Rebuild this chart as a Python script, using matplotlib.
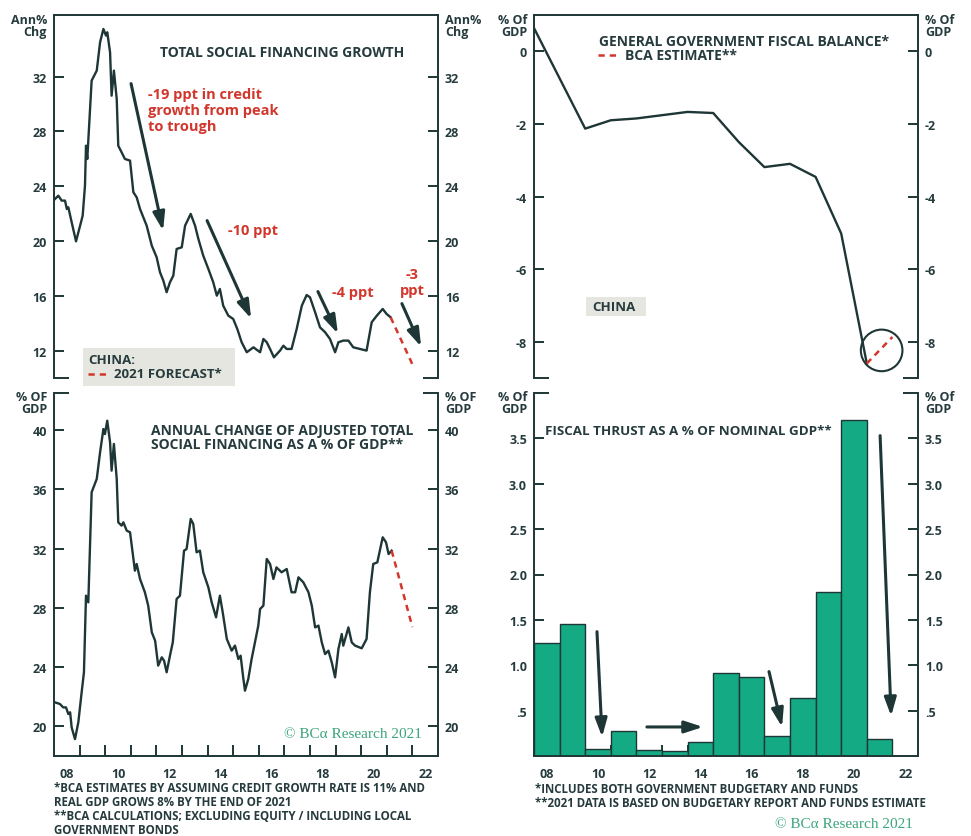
import matplotlib
matplotlib.use("Agg")
import matplotlib.pyplot as plt
from matplotlib.patches import Rectangle, Ellipse
from matplotlib.lines import Line2D

# ---------------------------------------------------------------- data
# Total social financing growth, % y/y (monthly readings)
tsf_years = [2008.04, 2008.17, 2008.30, 2008.43, 2008.50, 2008.56, 2008.69, 2008.86,
             2009.02, 2009.12, 2009.21, 2009.25, 2009.30, 2009.47, 2009.67, 2009.80,
             2009.93, 2010.03, 2010.08, 2010.19, 2010.25, 2010.34, 2010.45, 2010.51,
             2010.64, 2010.77, 2010.97, 2011.10, 2011.23, 2011.36, 2011.62, 2011.82,
             2012.01, 2012.14, 2012.27, 2012.40, 2012.53, 2012.66, 2012.79, 2012.99,
             2013.12, 2013.34, 2013.51, 2013.64, 2013.83, 2014.03, 2014.22, 2014.36,
             2014.48, 2014.61, 2014.81, 2015.00, 2015.16, 2015.33, 2015.53, 2015.79,
             2016.05, 2016.18, 2016.31, 2016.44, 2016.59, 2016.83, 2016.96, 2017.09,
             2017.28, 2017.48, 2017.68, 2017.87, 2018.00, 2018.20, 2018.39, 2018.59,
             2018.78, 2018.98, 2019.11, 2019.30, 2019.50, 2019.69, 2019.95, 2020.21,
             2020.41, 2020.61, 2020.84, 2020.99, 2021.15]
tsf_growth = [23.07, 23.31, 22.95, 22.95, 22.34, 22.46, 21.37, 19.98,
              21.12, 21.85, 24.04, 26.96, 25.99, 31.71, 32.44, 34.51,
              35.48, 35.00, 35.24, 33.78, 30.61, 32.44, 30.37, 26.96,
              26.48, 25.99, 25.87, 23.56, 23.19, 22.34, 21.12, 19.66,
              18.81, 17.72, 17.11, 16.26, 16.99, 17.47, 19.42, 19.54,
              21.12, 21.98, 21.12, 20.15, 18.93, 17.96, 16.99, 16.01,
              16.50, 15.28, 14.55, 14.31, 13.58, 12.61, 11.88, 12.24,
              11.88, 12.85, 12.61, 12.12, 11.51, 12.00, 12.36, 12.12,
              12.12, 13.58, 15.28, 16.06, 15.89, 14.80, 13.70, 13.34,
              12.85, 11.88, 12.61, 12.73, 12.73, 12.24, 12.12, 12.00,
              14.07, 14.55, 15.04, 14.68, 14.43]
tsf_fc_years = [2021.15, 2022.0]
tsf_fc_growth = [14.43, 11.0]

# General government fiscal balance, % of GDP
fb_years = [2008.0, 2010.0, 2011.0, 2012.0, 2013.0, 2014.0, 2015.0,
            2016.0, 2017.0, 2018.0, 2019.0, 2020.0, 2021.0]
fb_balance = [0.64, -2.13, -1.90, -1.85, -1.76, -1.67, -1.70,
              -2.50, -3.19, -3.10, -3.46, -5.02, -8.60]
fb_est_years = [2021.0, 2022.0]
fb_est_balance = [-8.60, -7.87]

# Annual change of adjusted TSF, % of GDP (monthly readings)
atsf_years = [2008.04, 2008.23, 2008.36, 2008.47, 2008.56, 2008.63, 2008.69, 2008.82,
              2008.95, 2009.08, 2009.17, 2009.25, 2009.34, 2009.47, 2009.67, 2009.80,
              2009.93, 2009.99, 2010.08, 2010.19, 2010.25, 2010.34, 2010.45, 2010.51,
              2010.64, 2010.71, 2010.84, 2010.97, 2011.07, 2011.16, 2011.23, 2011.36,
              2011.55, 2011.68, 2011.82, 2011.95, 2012.07, 2012.21, 2012.30, 2012.40,
              2012.53, 2012.64, 2012.79, 2012.92, 2013.08, 2013.18, 2013.34, 2013.44,
              2013.57, 2013.70, 2013.83, 2014.03, 2014.16, 2014.33, 2014.48, 2014.59,
              2014.75, 2014.94, 2015.07, 2015.20, 2015.29, 2015.39, 2015.46, 2015.59,
              2015.72, 2015.85, 2015.98, 2016.05, 2016.18, 2016.31, 2016.44, 2016.57,
              2016.69, 2016.89, 2017.09, 2017.28, 2017.42, 2017.55, 2017.74, 2017.94,
              2018.07, 2018.20, 2018.33, 2018.46, 2018.59, 2018.72, 2018.85, 2018.98,
              2019.11, 2019.24, 2019.30, 2019.50, 2019.63, 2019.76, 2020.02, 2020.21,
              2020.34, 2020.47, 2020.63, 2020.84, 2020.97, 2021.07, 2021.19]
atsf_pct_gdp = [21.62, 21.51, 21.28, 21.28, 20.83, 20.95, 19.93, 19.14,
                20.27, 22.30, 23.65, 28.82, 28.37, 35.80, 36.70, 38.50,
                40.07, 39.73, 40.63, 39.17, 37.26, 39.06, 36.70, 33.77,
                33.55, 33.77, 33.21, 33.10, 31.75, 30.51, 30.96, 29.95,
                29.05, 28.15, 26.35, 25.78, 24.10, 24.66, 24.43, 23.65,
                24.77, 25.67, 28.60, 28.82, 31.86, 31.97, 34.00, 33.66,
                31.75, 31.86, 30.40, 29.38, 28.37, 27.36, 28.82, 27.70,
                25.90, 25.11, 25.45, 24.55, 24.77, 23.31, 22.41, 23.20,
                24.55, 25.67, 26.80, 27.92, 28.15, 31.30, 30.96, 29.95,
                30.73, 30.40, 30.62, 29.05, 29.05, 30.06, 29.72, 29.05,
                28.15, 26.68, 26.80, 25.67, 24.88, 25.11, 24.32, 23.31,
                25.22, 26.23, 25.45, 26.68, 25.67, 25.45, 25.27, 25.90,
                29.05, 30.96, 31.07, 32.76, 32.42, 31.63, 31.86]
atsf_fc_years = [2021.19, 2022.0]
atsf_fc_pct_gdp = [31.86, 26.7]

# Fiscal thrust, % of nominal GDP (annual)
ft_years = [2008, 2009, 2010, 2011, 2012, 2013, 2014,
            2015, 2016, 2017, 2018, 2019, 2020, 2021]
ft_thrust = [1.25, 1.46, 0.08, 0.27, 0.07, 0.05, 0.15,
             0.91, 0.87, 0.22, 0.64, 1.81, 3.70, 0.19]

x_tick_labels = ["08", "10", "12", "14", "16", "18", "20", "22"]
tl_ticks = [12, 16, 20, 24, 28, 32]
tr_ticks = [0, -2, -4, -6, -8]
bl_ticks = [20, 24, 28, 32, 36, 40]
br_ticks = [0.5, 1.0, 1.5, 2.0, 2.5, 3.0, 3.5]
br_tick_labels = [".5", "1.0", "1.5", "2.0", "2.5", "3.0", "3.5"]

# ---------------------------------------------------------------- style
W, H, DPI = 971, 837, 100
INK = "#263b3d"
LINE = "#1e3636"
RED = "#d1372c"
GREEN = "#14aa84"
BOX = "#e6e6e0"
COPY = "#3aa57b"
TITLE_SIZE = 10
NOTE_SIZE = 8.3

plt.rcParams["font.family"] = ["Open Sans", "DejaVu Sans"]
plt.rcParams["font.weight"] = "bold"

fig = plt.figure(figsize=(W / DPI, H / DPI), dpi=DPI)


def rect(x0, y0, x1, y1):
    return [x0 / W, 1 - y1 / H, (x1 - x0) / W, (y1 - y0) / H]


def ftext(x, y, s, **kw):
    kw.setdefault("color", INK)
    kw.setdefault("fontsize", 9)
    return fig.text(x / W, 1 - y / H, s, **kw)


def setup(ax, ylim, yticks, ylabels, top_panel):
    ax.set_xlim(2008, 2023)
    ax.set_ylim(*ylim)
    for s in ax.spines.values():
        s.set_color(LINE)
        s.set_linewidth(1.4)
    ax.spines["bottom" if top_panel else "top"].set_visible(False)
    edge = 0 if top_panel else 1
    stub = 15 / 384
    for xs in ([0, stub], [1 - stub, 1]):
        ax.add_line(Line2D(xs, [edge, edge], transform=ax.transAxes, color=LINE,
                           lw=1.4, clip_on=False, solid_capstyle="butt"))
    ax.set_yticks(yticks)
    ax.set_yticklabels(ylabels)
    ax.tick_params(axis="y", direction="in", left=True, right=True,
                   labelleft=True, labelright=True, length=7, width=1.4,
                   color=LINE, labelcolor=INK, labelsize=9, pad=5)
    if top_panel:
        ax.tick_params(axis="x", which="both", bottom=False, labelbottom=False)
    else:
        ax.set_xticks(range(2009, 2023), minor=True)
        ax.set_xticks([y + 0.5 for y in range(2008, 2023, 2)])
        ax.set_xticklabels(x_tick_labels)
        ax.tick_params(axis="x", which="minor", direction="in", length=8,
                       width=1.4, color=LINE)
        ax.tick_params(axis="x", which="major", length=0, labelsize=9,
                       labelcolor=INK, pad=8)


def arrow(ax, start, end, lw=2.2):
    ax.annotate("", xy=end, xytext=start,
                arrowprops=dict(arrowstyle="-|>,head_length=1.1,head_width=0.36",
                                color=LINE, lw=lw, shrinkA=0, shrinkB=0))


# ---------------------------------------------------------------- top left
ax1 = fig.add_axes(rect(54, 16, 438, 379))
setup(ax1, (10, 36.5), tl_ticks, [str(t) for t in tl_ticks], True)
ax1.plot(tsf_years, tsf_growth, color=LINE, lw=1.7, solid_joinstyle="round")
ax1.plot(tsf_fc_years, tsf_fc_growth, color=RED, lw=1.8, ls=(0, (2.5, 2)))
arrow(ax1, (2011.01, 31.49), (2012.26, 20.76))
arrow(ax1, (2013.98, 21.49), (2015.70, 14.34))
arrow(ax1, (2018.31, 16.31), (2019.09, 13.24))
arrow(ax1, (2021.59, 15.43), (2022.34, 12.29))

ftext(282, 53, "TOTAL SOCIAL FINANCING GROWTH", ha="center", va="center",
      fontsize=TITLE_SIZE)
ftext(148, 88, "-19 ppt in credit\ngrowth from peak\nto trough", color=RED,
      fontsize=10.5, va="top", ha="left", linespacing=1.2)
ftext(228, 231, "-10 ppt", color=RED, fontsize=10.5, va="center")
ftext(332, 293, "-4 ppt", color=RED, fontsize=10.5, va="center")
ftext(412, 283, "-3\nppt", color=RED, fontsize=10.5, va="center", ha="center",
      linespacing=1.2)
ftext(47, 14, "Ann%\nChg", ha="right", va="top", fontsize=9, linespacing=0.9)
ftext(445, 14, "Ann%\nChg", ha="left", va="top", fontsize=9, linespacing=0.9)

fig.patches.append(Rectangle((83 / W, 1 - 387 / H), 152 / W, 38 / H,
                             transform=fig.transFigure, facecolor=BOX,
                             edgecolor="none", zorder=1))
ftext(88, 361, "CHINA:", va="center", fontsize=9.5)
ftext(114, 375, "2021 FORECAST*", va="center", fontsize=9.5)
fig.lines.append(Line2D([88 / W, 110 / W], [1 - 375 / H, 1 - 375 / H],
                        transform=fig.transFigure, color=RED, lw=1.8,
                        ls=(0, (2.5, 2)), zorder=2))

# ---------------------------------------------------------------- top right
ax2 = fig.add_axes(rect(534, 16, 918, 379))
setup(ax2, (-9, 1), tr_ticks, [str(t) for t in tr_ticks], True)
ax2.plot(fb_years, fb_balance, color=LINE, lw=1.7, solid_joinstyle="round")
ax2.plot(fb_est_years, fb_est_balance, color=RED, lw=1.8, ls=(0, (2.5, 2)))
ax2.add_patch(Ellipse((2021.58, -8.24), 1.625, 1.146, facecolor="none",
                      edgecolor=LINE, lw=1.5, clip_on=False))

ftext(599, 42, "GENERAL GOVERNMENT FISCAL BALANCE*", va="center",
      fontsize=TITLE_SIZE)
fig.lines.append(Line2D([598 / W, 620 / W], [1 - 56 / H, 1 - 56 / H],
                        transform=fig.transFigure, color=RED, lw=1.8,
                        ls=(0, (2.5, 2))))
ftext(625, 56, "BCA ESTIMATE**", va="center", fontsize=TITLE_SIZE)
fig.patches.append(Rectangle((586 / W, 1 - 317 / H), 60 / W, 19 / H,
                             transform=fig.transFigure, facecolor=BOX,
                             edgecolor="none", zorder=1))
ftext(592, 307.5, "CHINA", va="center", fontsize=9.5)
ftext(527, 14, "% Of\nGDP", ha="right", va="top", fontsize=9, linespacing=0.9)
ftext(925, 14, "% Of\nGDP", ha="left", va="top", fontsize=9, linespacing=0.9)

# ---------------------------------------------------------------- bottom left
ax3 = fig.add_axes(rect(54, 394, 438, 757))
setup(ax3, (18, 42.5), bl_ticks, [str(t) for t in bl_ticks], False)
ax3.plot(atsf_years, atsf_pct_gdp, color=LINE, lw=1.7, solid_joinstyle="round")
ax3.plot(atsf_fc_years, atsf_fc_pct_gdp, color=RED, lw=1.8, ls=(0, (2.5, 2)))

ftext(151, 438, "ANNUAL CHANGE OF ADJUSTED TOTAL\nSOCIAL FINANCING AS A % OF GDP**",
      va="center", linespacing=0.95, fontsize=TITLE_SIZE)
ftext(422, 735, "© BCα Research 2021", ha="right", va="center", color=COPY,
      fontsize=11, family=["Liberation Serif", "DejaVu Serif"], weight="normal")
ftext(47, 391, "% OF\nGDP", ha="right", va="top", fontsize=9, linespacing=0.9)
ftext(445, 391, "% OF\nGDP", ha="left", va="top", fontsize=9, linespacing=0.9)

# ---------------------------------------------------------------- bottom right
ax4 = fig.add_axes(rect(534, 394, 918, 757))
setup(ax4, (0, 4.0), br_ticks, br_tick_labels, False)
ax4.bar(ft_years, ft_thrust, width=1.0, align="edge", color=GREEN,
        edgecolor=LINE, linewidth=1.0, zorder=2)
arrow(ax4, (2010.46, 1.37), (2010.66, 0.21))
arrow(ax4, (2012.41, 0.32), (2014.60, 0.32))
arrow(ax4, (2017.18, 0.93), (2017.69, 0.32))
arrow(ax4, (2021.52, 3.53), (2021.95, 0.44))

ftext(545, 432, "FISCAL THRUST AS A % OF NOMINAL GDP**", va="center",
      fontsize=9.6)
ftext(527, 391, "% Of\nGDP", ha="right", va="top", fontsize=9, linespacing=0.9)
ftext(925, 391, "% Of\nGDP", ha="left", va="top", fontsize=9, linespacing=0.9)

# ---------------------------------------------------------------- footnotes
left_notes = ["*BCA ESTIMATES BY ASSUMING CREDIT GROWTH RATE IS 11% AND",
              "REAL GDP GROWS 8% BY THE END OF 2021",
              "**BCA CALCULATIONS; EXCLUDING EQUITY / INCLUDING LOCAL",
              "GOVERNMENT BONDS"]
for i, line in enumerate(left_notes):
    ftext(54, 789 + 14 * i, line, va="center", fontsize=NOTE_SIZE)

right_notes = ["*INCLUDES BOTH GOVERNMENT BUDGETARY AND FUNDS",
               "**2021 DATA IS BASED ON BUDGETARY REPORT AND FUNDS ESTIMATE"]
for i, line in enumerate(right_notes):
    ftext(535, 790 + 14 * i, line, va="center", fontsize=NOTE_SIZE)
ftext(913, 825, "© BCα Research 2021", ha="right", va="center", color=COPY,
      fontsize=11, family=["Liberation Serif", "DejaVu Serif"], weight="normal")

fig.savefig("out.png", dpi=DPI)
